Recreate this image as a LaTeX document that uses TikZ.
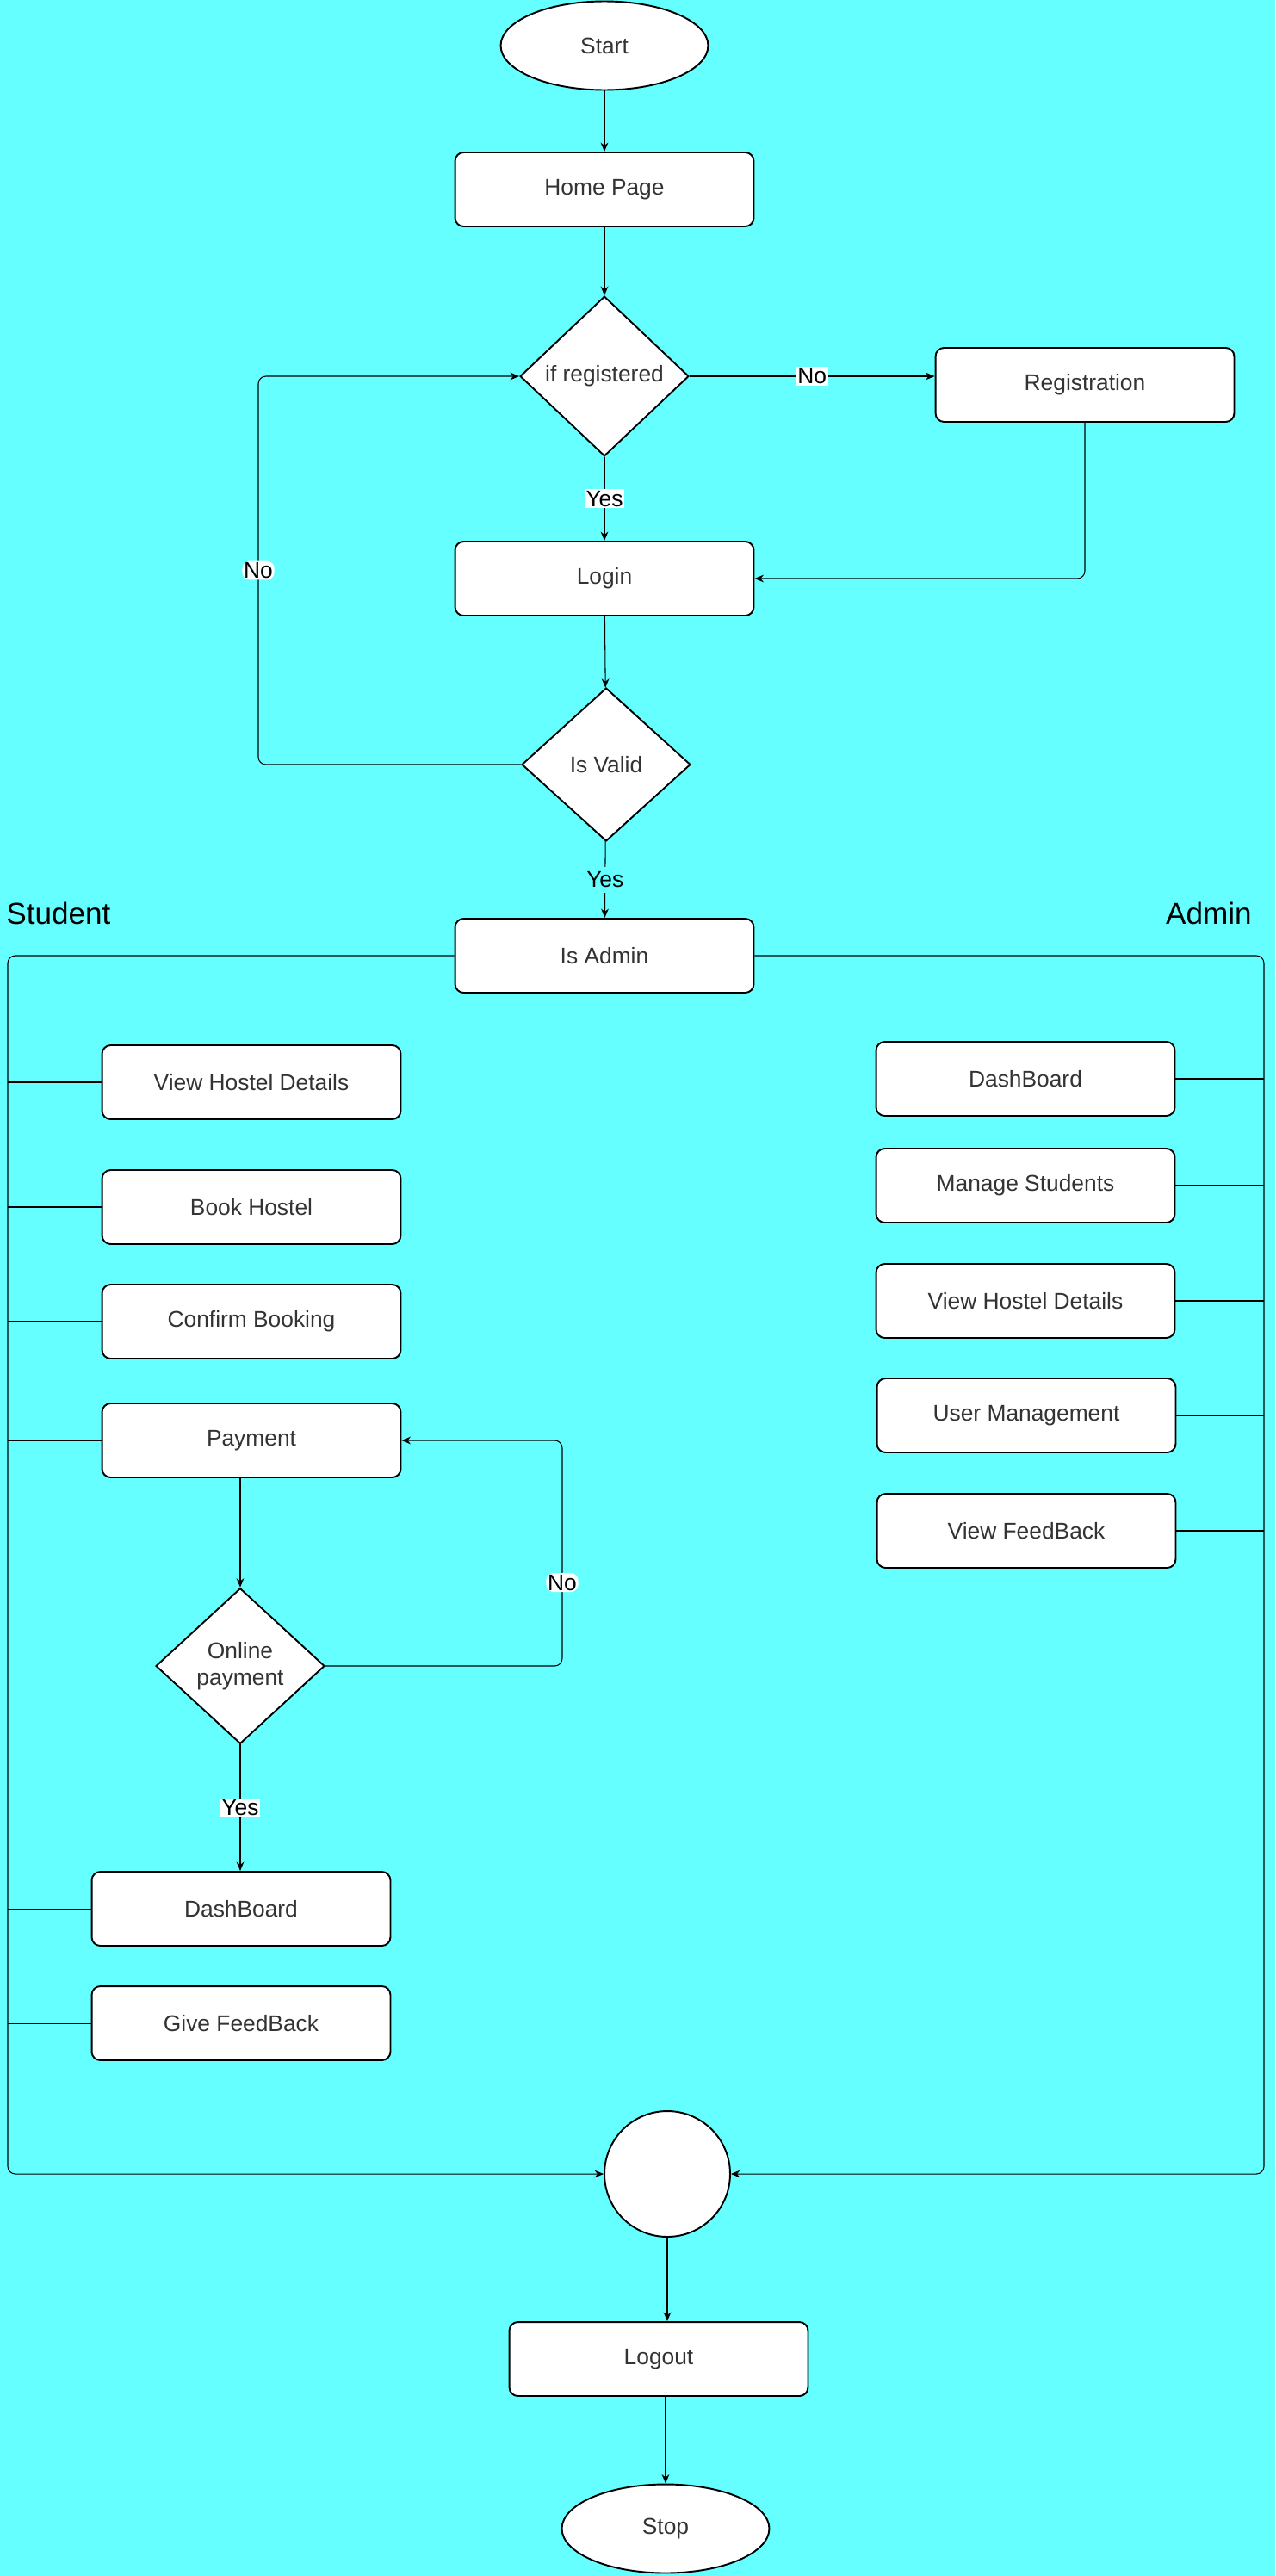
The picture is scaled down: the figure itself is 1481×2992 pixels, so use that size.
\documentclass[tikz,border=0pt]{standalone}
\usepackage{fontspec}
\setmainfont{Liberation Sans}
\usetikzlibrary{shapes.geometric,arrows.meta}
\definecolor{bgcyan}{HTML}{66FFFF}
\definecolor{txt}{HTML}{333333}

\begin{document}
\begin{tikzpicture}
[
x=0.02cm, y=-0.02cm,
font=\fontsize{15}{18}\selectfont,
every node/.style={text=txt},
box/.style={draw, fill=white, rounded corners=0.2cm, line width=1.1pt, minimum width=6.94cm, minimum height=1.72cm},
term/.style={ellipse, draw, fill=white, line width=1.1pt, minimum width=4.82cm, minimum height=2.06cm},
decide/.style={diamond, draw, fill=white, line width=1.1pt, align=center, minimum width=3.92cm, minimum height=3.56cm},
arr/.style={-{Stealth[length=6pt,width=5pt]}, line width=0.6pt},
link/.style={line width=0.6pt},
lbl/.style={fill=white, inner sep=1pt, text=black},
side/.style={font=\fontsize{20}{24}\selectfont, text=black, inner sep=0pt}
]
\fill[bgcyan] (0,0) rectangle (1481,2992);
\useasboundingbox (0,0) rectangle (1481,2992);

\node[term] (start) at (702,53) {Start};
\node[box] (home) at (702,220) {Home Page};
\node[decide] (ifreg) at (702,437) {if registered};
\node[box] (reg) at (1260,447) {Registration};
\node[box] (login) at (702,672) {Login};
\node[decide] (valid) at (704,888) {Is Valid};
\node[box] (isadm) at (702,1110) {Is Admin};
\node[side, anchor=west] (stu) at (7,1061) {Student};
\node[side, anchor=east] (adm) at (1454,1061) {Admin};

\node[box] (svhd) at (292,1257) {View Hostel Details};
\node[box] (book) at (292,1402) {Book Hostel};
\node[box] (conf) at (292,1535) {Confirm Booking};
\node[box] (pay) at (292,1673) {Payment};
\node[decide] (online) at (279,1935) {Online\\payment};
\node[box] (sdash) at (280,2217) {DashBoard};
\node[box] (gfb) at (280,2350) {Give FeedBack};

\node[box] (adash) at (1191,1253) {DashBoard};
\node[box] (mstu) at (1191,1377) {Manage Students};
\node[box] (avhd) at (1191,1511) {View Hostel Details};
\node[box] (umgmt) at (1192,1644) {User Management};
\node[box] (vfb) at (1192,1778) {View FeedBack};

\node[circle, draw, fill=white, line width=1.1pt, minimum size=2.92cm] (merge) at (775,2525) {};
\node[box] (logout) at (765,2740) {Logout};
\node[term] (stop) at (773,2937) {Stop};

\coordinate (tl) at (9,0);
\coordinate (tr) at (1468,0);
\coordinate (nl) at (300,0);
\coordinate (nr) at (653,0);

\draw[arr] (start) -- (home);
\draw[arr, line width=1.1pt] (home) -- (ifreg);
\draw[arr] (ifreg.east) -- node[lbl]{No} (ifreg.east -| reg.west);
\draw[arr] (ifreg) -- node[lbl]{Yes} (login);
\draw[arr, rounded corners=5pt] (reg) |- (login);
\draw[arr] (login) -- (valid);
\draw[arr, rounded corners=5pt] (valid.west) -- (valid.west -| nl) -- node[lbl]{No} (ifreg.west -| nl) -- (ifreg.west);
\draw[arr] (valid) -- node[fill=bgcyan, text=black]{Yes} (isadm);

\draw[arr, rounded corners=5pt] (isadm.west) -- (isadm.west -| tl) -- (merge.west -| tl) -- (merge.west);
\draw[arr, rounded corners=5pt] (isadm.east) -- (isadm.east -| tr) -- (merge.east -| tr) -- (merge.east);
\foreach \n in {svhd,book,conf,pay,sdash,gfb}
  \draw[link] (\n.west -| tl) -- (\n.west);
\foreach \n in {adash,mstu,avhd,umgmt,vfb}
  \draw[link] (\n.east) -- (\n.east -| tr);

\draw[arr] (online.north |- pay.south) -- (online.north);
\draw[arr, rounded corners=5pt] (online.east) -- (online.east -| nr) -- node[lbl, pos=0.37]{No} (pay.east -| nr) -- (pay.east);
\draw[arr] (online) -- node[lbl]{Yes} (online |- sdash.north);
\draw[arr] (merge) -- (merge |- logout.north);
\draw[arr] (stop |- logout.south) -- (stop);
\end{tikzpicture}
\end{document}
